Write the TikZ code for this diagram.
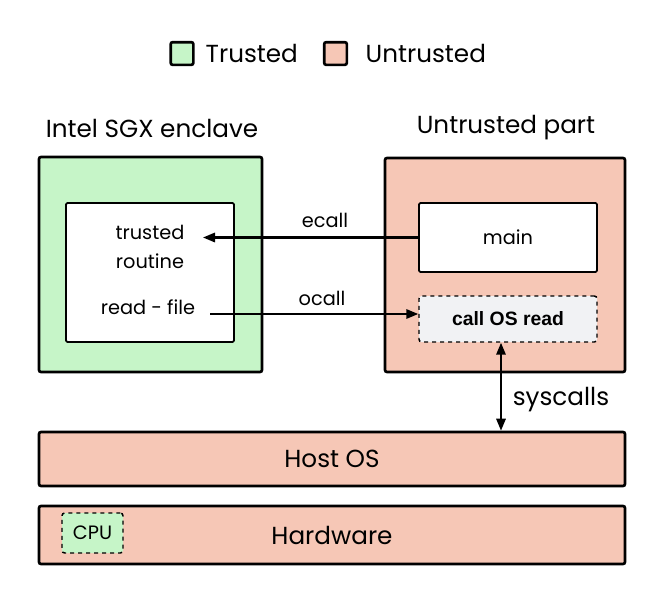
\documentclass[tikz,border=0pt]{standalone}
\usepackage{fontspec}
\setmainfont{Poppins}
\newfontfamily\callfont{Liberation Sans}
\usetikzlibrary{arrows.meta}
\definecolor{trustgreen}{HTML}{C6F5C8}
\definecolor{untrustred}{HTML}{F6C7B6}
\definecolor{stubgray}{HTML}{F1F2F4}
\tikzset{
	layer/.style={draw, line width=2pt, rounded corners=1.5pt, inner sep=0pt},
	trusted/.style={layer, fill=trustgreen},
	untrusted/.style={layer, fill=untrustred},
	inbox/.style={draw, fill=white, line width=1.4pt, rounded corners=1pt, inner sep=0pt},
	stub/.style={draw, dashed, line width=1.1pt, rounded corners=2pt, inner sep=0pt},
	call/.style={->, line width=1.6pt},
	big/.style={font=\fontsize{18.5}{22}\selectfont},
	small/.style={font=\fontsize{14.5}{21.75}\selectfont}
}
\begin{document}
\begin{tikzpicture}[x=0.75pt, y=-0.75pt, >={Triangle[length=9pt, width=7pt]}]
	\useasboundingbox (0, 0) rectangle (664, 604);
	% legend
	\node[trusted, minimum size=17pt] (keytrust) at (182, 53.5) {};
	\node[big, anchor=west] (keytrusttext) at (201, 53) {Trusted};
	\node[untrusted, minimum size=17pt] (keyuntrust) at (335.5, 53.5) {};
	\node[big, anchor=west] (keyuntrusttext) at (361, 53) {Untrusted};
	% titles
	\node[big] (enclavetitle) at (152, 128) {Intel SGX enclave};
	\node[big] (untrusttitle) at (506, 128) {Untrusted part};
	% enclave side
	\node[trusted, minimum width=167.25pt, minimum height=161.25pt] (enclave) at (150.5, 264.5) {};
	\node[inbox, minimum width=126pt, minimum height=104.25pt] (routine) at (150, 272.5) {};
	\node[small, align=center] (trustedtext) at (150, 247) {trusted\\routine};
	\node[small] (readfile) at (148, 307) {read - file};
	% untrusted side
	\node[untrusted, minimum width=180pt, minimum height=160.5pt] (untrust) at (505, 265) {};
	\node[inbox, small, minimum width=133.5pt, minimum height=51.75pt] (main) at (508, 237.5) {main};
	\node[stub, fill=stubgray, minimum width=133.5pt, minimum height=34.5pt, font=\callfont\bfseries\fontsize{14.5}{17}\selectfont] (osread) at (508, 319) {call OS read};
	% host
	\node[untrusted, big, minimum width=439.5pt, minimum height=40.5pt] (hostos) at (332, 459) {Host OS};
	\node[untrusted, big, minimum width=439.5pt, minimum height=43.5pt] (hardware) at (332, 535) {Hardware};
	\node[stub, fill=trustgreen, minimum width=45.75pt, minimum height=30pt, font=\fontsize{14.5}{17}\selectfont] (cpu) at (92.5, 533) {CPU};
	% calls
	\coordinate (ecallend) at (203, 237.5);
	\coordinate (ocallstart) at (210, 314);
	\coordinate (sysline) at (501, 0);
	\draw[call] (main.west) -- (ecallend);
	\draw[call] (ocallstart) -- (ocallstart -| osread.west);
	\draw[call, <->] (osread.south -| sysline) -- (hostos.north -| sysline);
	\node[small] (ecall) at (325, 220) {ecall};
	\node[small] (ocall) at (322, 298) {ocall};
	\node[big] (syscalls) at (561, 400) {syscalls};
\end{tikzpicture}
\end{document}
